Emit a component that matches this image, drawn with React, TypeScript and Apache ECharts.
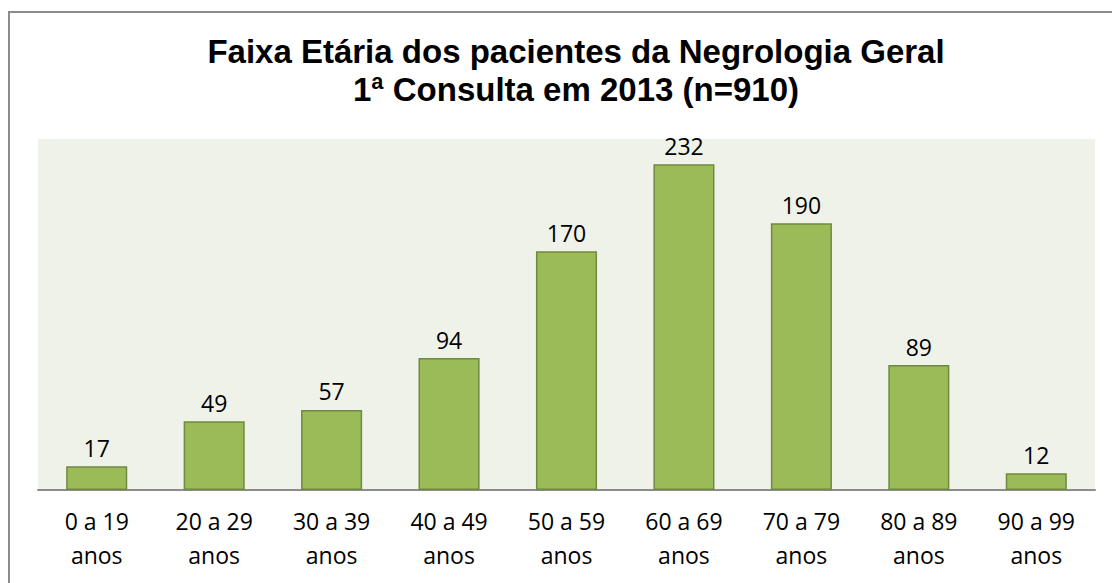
import React, { useEffect, useRef } from "react";
import * as echarts from "echarts";

const categories = ["0 a 19\nanos", "20 a 29\nanos", "30 a 39\nanos", "40 a 49\nanos", "50 a 59\nanos", "60 a 69\nanos", "70 a 79\nanos", "80 a 89\nanos", "90 a 99\nanos"];
const values = [17, 49, 57, 94, 170, 232, 190, 89, 12];
const titleLines = ["Faixa Etária dos pacientes da Negrologia Geral", "1ª Consulta em 2013 (n=910)"];

export default function App() {
  const ref = useRef<HTMLDivElement>(null);
  useEffect(() => {
    const chart = echarts.init(ref.current!, null, { renderer: "svg" });
    const labelFont = "'Open Sans', 'Noto Sans', sans-serif";
    chart.setOption({
      animation: false,
      backgroundColor: "#ffffff",
      graphic: [
        {
          type: "rect",
          z: -10,
          silent: true,
          shape: { x: 9, y: 12, width: 1200, height: 700 },
          style: { fill: "#ffffff", stroke: "#8c8c8c", lineWidth: 2 },
        },
      ],
      title: {
        text: titleLines.join("\n"),
        left: 571,
        textAlign: "center",
        top: 27,
        textStyle: {
          fontFamily: "'Liberation Sans', Arial, sans-serif",
          fontWeight: "bold",
          fontSize: 33,
          lineHeight: 38,
          color: "#000000",
        },
      },
      grid: {
        left: 38,
        right: 17,
        top: 139,
        bottom: 93,
        show: true,
        backgroundColor: "#EFF2E9",
        borderWidth: 0,
      },
      xAxis: {
        type: "category",
        data: categories,
        axisLine: { show: true, lineStyle: { color: "#8c8c8c", width: 2 } },
        axisTick: { show: false },
        axisLabel: {
          color: "#000000",
          fontFamily: labelFont,
          fontSize: 23,
          lineHeight: 34,
          margin: 14,
          interval: 0,
        },
      },
      yAxis: {
        type: "value",
        min: 0,
        max: 250,
        show: false,
        splitLine: { show: false },
      },
      series: [
        {
          type: "bar",
          data: values,
          barCategoryGap: "48%",
          itemStyle: { color: "#9BBB59", borderColor: "#71893F", borderWidth: 1.5 },
          label: {
            show: true,
            position: "top",
            distance: 7,
            color: "#000000",
            fontFamily: labelFont,
            fontSize: 23,
          },
        },
      ],
    });
    return () => chart.dispose();
  }, []);
  return <div ref={ref} style={{ position: "fixed", left: 0, top: 0, width: 1112, height: 583 }} />;
}
